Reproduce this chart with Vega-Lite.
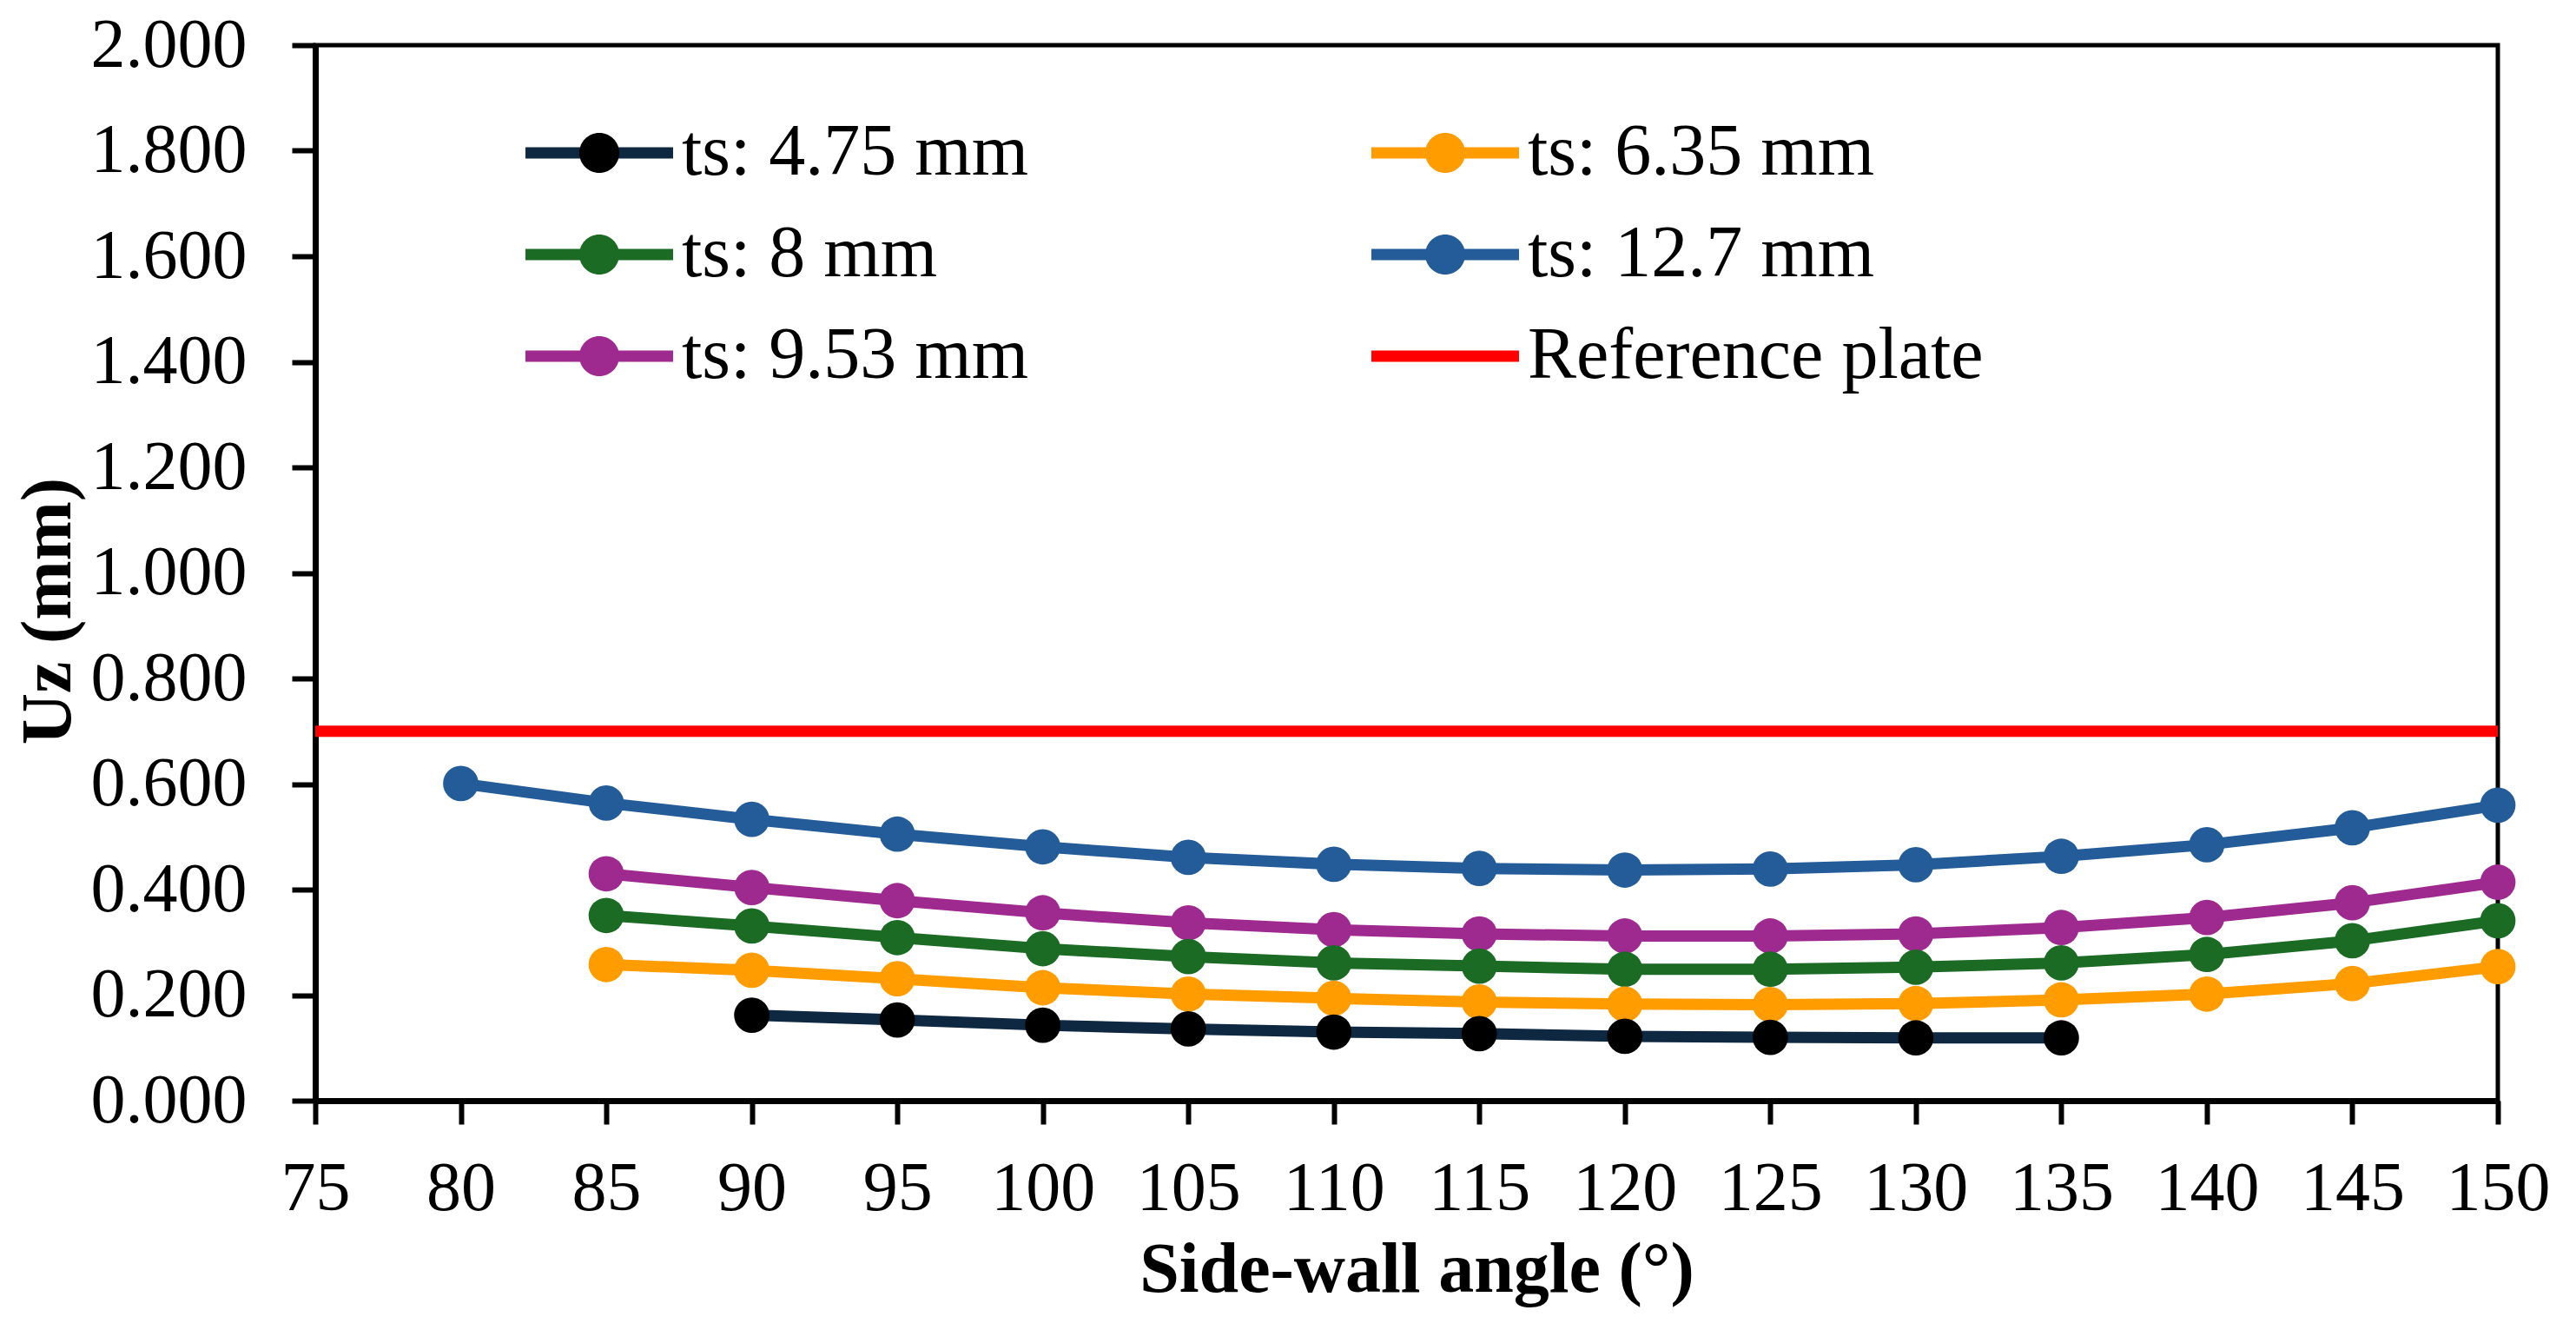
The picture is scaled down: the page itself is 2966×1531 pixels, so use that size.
{
  "$schema": "https://vega.github.io/schema/vega-lite/v6.json",
  "width": 2513,
  "height": 1215,
  "autosize": {"type": "none"},
  "padding": {"left": 363, "top": 52, "right": 90, "bottom": 264},
  "background": "white",
  "config": {
    "view": {"stroke": "black", "strokeWidth": 5},
    "font": "Liberation Serif"
  },
  "data": {
    "values": [
      {"a": 80, "u": 0.601, "s": "ts: 12.7 mm"},
      {"a": 85, "u": 0.564, "s": "ts: 12.7 mm"},
      {"a": 90, "u": 0.533, "s": "ts: 12.7 mm"},
      {"a": 95, "u": 0.505, "s": "ts: 12.7 mm"},
      {"a": 100, "u": 0.481, "s": "ts: 12.7 mm"},
      {"a": 105, "u": 0.461, "s": "ts: 12.7 mm"},
      {"a": 110, "u": 0.448, "s": "ts: 12.7 mm"},
      {"a": 115, "u": 0.440, "s": "ts: 12.7 mm"},
      {"a": 120, "u": 0.437, "s": "ts: 12.7 mm"},
      {"a": 125, "u": 0.439, "s": "ts: 12.7 mm"},
      {"a": 130, "u": 0.447, "s": "ts: 12.7 mm"},
      {"a": 135, "u": 0.463, "s": "ts: 12.7 mm"},
      {"a": 140, "u": 0.485, "s": "ts: 12.7 mm"},
      {"a": 145, "u": 0.517, "s": "ts: 12.7 mm"},
      {"a": 150, "u": 0.560, "s": "ts: 12.7 mm"},
      {"a": 85, "u": 0.430, "s": "ts: 9.53 mm"},
      {"a": 90, "u": 0.404, "s": "ts: 9.53 mm"},
      {"a": 95, "u": 0.379, "s": "ts: 9.53 mm"},
      {"a": 100, "u": 0.356, "s": "ts: 9.53 mm"},
      {"a": 105, "u": 0.337, "s": "ts: 9.53 mm"},
      {"a": 110, "u": 0.324, "s": "ts: 9.53 mm"},
      {"a": 115, "u": 0.316, "s": "ts: 9.53 mm"},
      {"a": 120, "u": 0.312, "s": "ts: 9.53 mm"},
      {"a": 125, "u": 0.312, "s": "ts: 9.53 mm"},
      {"a": 130, "u": 0.316, "s": "ts: 9.53 mm"},
      {"a": 135, "u": 0.328, "s": "ts: 9.53 mm"},
      {"a": 140, "u": 0.347, "s": "ts: 9.53 mm"},
      {"a": 145, "u": 0.375, "s": "ts: 9.53 mm"},
      {"a": 150, "u": 0.414, "s": "ts: 9.53 mm"},
      {"a": 85, "u": 0.351, "s": "ts: 8 mm"},
      {"a": 90, "u": 0.331, "s": "ts: 8 mm"},
      {"a": 95, "u": 0.309, "s": "ts: 8 mm"},
      {"a": 100, "u": 0.288, "s": "ts: 8 mm"},
      {"a": 105, "u": 0.273, "s": "ts: 8 mm"},
      {"a": 110, "u": 0.261, "s": "ts: 8 mm"},
      {"a": 115, "u": 0.255, "s": "ts: 8 mm"},
      {"a": 120, "u": 0.249, "s": "ts: 8 mm"},
      {"a": 125, "u": 0.249, "s": "ts: 8 mm"},
      {"a": 130, "u": 0.253, "s": "ts: 8 mm"},
      {"a": 135, "u": 0.261, "s": "ts: 8 mm"},
      {"a": 140, "u": 0.277, "s": "ts: 8 mm"},
      {"a": 145, "u": 0.303, "s": "ts: 8 mm"},
      {"a": 150, "u": 0.341, "s": "ts: 8 mm"},
      {"a": 85, "u": 0.258, "s": "ts: 6.35 mm"},
      {"a": 90, "u": 0.247, "s": "ts: 6.35 mm"},
      {"a": 95, "u": 0.231, "s": "ts: 6.35 mm"},
      {"a": 100, "u": 0.214, "s": "ts: 6.35 mm"},
      {"a": 105, "u": 0.202, "s": "ts: 6.35 mm"},
      {"a": 110, "u": 0.194, "s": "ts: 6.35 mm"},
      {"a": 115, "u": 0.187, "s": "ts: 6.35 mm"},
      {"a": 120, "u": 0.183, "s": "ts: 6.35 mm"},
      {"a": 125, "u": 0.182, "s": "ts: 6.35 mm"},
      {"a": 130, "u": 0.184, "s": "ts: 6.35 mm"},
      {"a": 135, "u": 0.191, "s": "ts: 6.35 mm"},
      {"a": 140, "u": 0.202, "s": "ts: 6.35 mm"},
      {"a": 145, "u": 0.222, "s": "ts: 6.35 mm"},
      {"a": 150, "u": 0.254, "s": "ts: 6.35 mm"},
      {"a": 90, "u": 0.162, "s": "ts: 4.75 mm"},
      {"a": 95, "u": 0.153, "s": "ts: 4.75 mm"},
      {"a": 100, "u": 0.143, "s": "ts: 4.75 mm"},
      {"a": 105, "u": 0.136, "s": "ts: 4.75 mm"},
      {"a": 110, "u": 0.130, "s": "ts: 4.75 mm"},
      {"a": 115, "u": 0.127, "s": "ts: 4.75 mm"},
      {"a": 120, "u": 0.122, "s": "ts: 4.75 mm"},
      {"a": 125, "u": 0.120, "s": "ts: 4.75 mm"},
      {"a": 130, "u": 0.119, "s": "ts: 4.75 mm"},
      {"a": 135, "u": 0.119, "s": "ts: 4.75 mm"},
      {"a": 75, "u": 0.700, "s": "Reference plate"},
      {"a": 150, "u": 0.700, "s": "Reference plate"}
    ]
  },
  "encoding": {
    "x": {
      "field": "a",
      "type": "quantitative",
      "scale": {"domain": [75, 150], "nice": false, "zero": false},
      "axis": {
        "values": [75, 80, 85, 90, 95, 100, 105, 110, 115, 120, 125, 130, 135, 140, 145, 150],
        "format": "d",
        "grid": false,
        "labelFont": "Liberation Serif",
        "labelFontSize": 80,
        "labelColor": "black",
        "labelPadding": 35,
        "labelLimit": 1000,
        "labelFlush": false,
        "labelOverlap": false,
        "tickSize": 27,
        "tickWidth": 6,
        "tickColor": "black",
        "domainColor": "black",
        "domainWidth": 7,
        "title": "Side-wall angle (°)",
        "titleFont": "Liberation Serif",
        "titleFontSize": 82,
        "titleFontWeight": "bold",
        "titleColor": "black",
        "titleX": 1268,
        "titleY": 194,
        "titleAlign": "center",
        "titleBaseline": "middle"
      }
    },
    "y": {
      "field": "u",
      "type": "quantitative",
      "scale": {"domain": [0, 2], "nice": false},
      "axis": {
        "values": [0, 0.2, 0.4, 0.6, 0.8, 1.0, 1.2, 1.4, 1.6, 1.8, 2.0],
        "format": ".3f",
        "grid": false,
        "labelFont": "Liberation Serif",
        "labelFontSize": 80,
        "labelColor": "black",
        "labelPadding": 52,
        "labelLimit": 1000,
        "labelFlush": false,
        "labelOverlap": false,
        "tickSize": 27,
        "tickWidth": 6,
        "tickColor": "black",
        "domainColor": "black",
        "domainWidth": 7,
        "title": "Uz (mm)",
        "titleFont": "Liberation Serif",
        "titleFontSize": 82,
        "titleFontWeight": "bold",
        "titleColor": "black",
        "titleAngle": -90,
        "titleX": -308,
        "titleY": 651,
        "titleAlign": "center",
        "titleBaseline": "middle"
      }
    }
  },
  "layer": [
    {
      "mark": {"type": "line", "strokeWidth": 13, "strokeJoin": "round"},
      "encoding": {
        "stroke": {
          "field": "s",
          "type": "nominal",
          "scale": {
            "domain": ["ts: 4.75 mm", "ts: 6.35 mm", "ts: 8 mm", "ts: 12.7 mm", "ts: 9.53 mm", "Reference plate"],
            "range": ["#0E2841", "#FF9C00", "#1B6B25", "#235C98", "#9E2A8F", "#FF0000"]
          },
          "legend": {
            "orient": "none",
            "direction": "horizontal",
            "legendX": 285,
            "legendY": 82,
            "columns": 2,
            "title": null,
            "padding": 0,
            "symbolType": "M-2.833,0L2.833,0",
            "symbolSize": 3600,
            "symbolStrokeWidth": 13,
            "labelFont": "Liberation Serif",
            "labelFontSize": 84,
            "labelColor": "black",
            "labelOffset": 53,
            "labelLimit": 2000,
            "columnPadding": 368,
            "rowPadding": 33
          }
        }
      }
    },
    {
      "transform": [{"filter": "datum.s !== 'Reference plate'"}],
      "mark": {"type": "point", "filled": true, "size": 1662, "opacity": 1, "strokeWidth": 0},
      "encoding": {
        "fill": {
          "field": "s",
          "type": "nominal",
          "scale": {
            "domain": ["ts: 4.75 mm", "ts: 6.35 mm", "ts: 8 mm", "ts: 12.7 mm", "ts: 9.53 mm"],
            "range": ["#000000", "#FF9C00", "#1B6B25", "#235C98", "#9E2A8F"]
          },
          "legend": {
            "orient": "none",
            "direction": "horizontal",
            "legendX": 285,
            "legendY": 82,
            "columns": 2,
            "title": null,
            "padding": 0,
            "symbolType": "M-0.767,0A0.767,0.767,0,1,1,0.767,0A0.767,0.767,0,1,1,-0.767,0Z",
            "symbolSize": 3600,
            "symbolStrokeWidth": 0,
            "labelFont": "Liberation Serif",
            "labelFontSize": 84,
            "labelExpr": "''",
            "labelOffset": 53,
            "labelLimit": 2000,
            "columnPadding": 837,
            "rowPadding": 33
          }
        }
      }
    }
  ]
}
